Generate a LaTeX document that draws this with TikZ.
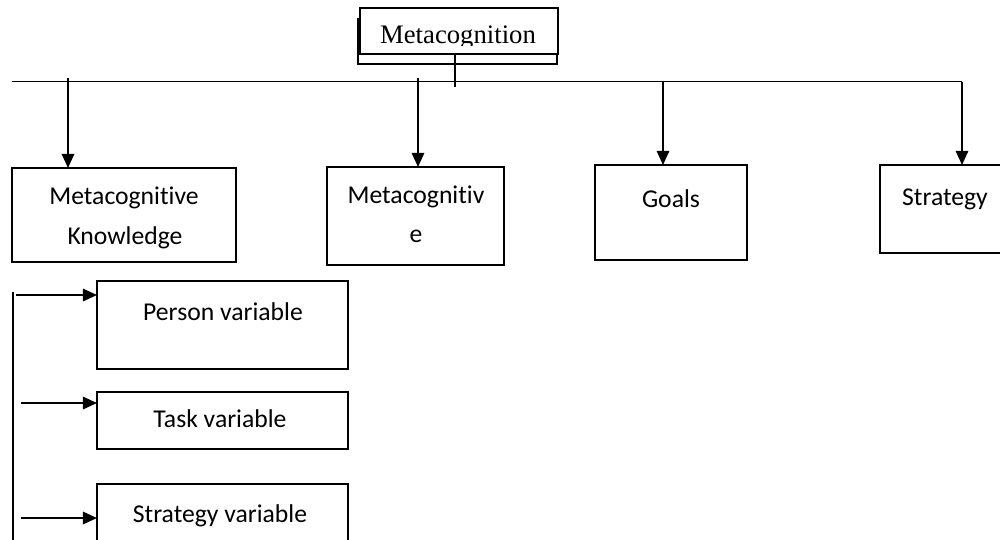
\documentclass[tikz,border=0pt]{standalone}
\usepackage{fontspec}
\setmainfont{Carlito}[RawFeature={-liga;-clig;-dlig}]
\newfontfamily\timesfont{Liberation Serif}
\usetikzlibrary{arrows.meta}
\begin{document}
\begin{tikzpicture}[x=0.02cm,y=-0.02cm,
  box/.style={draw,line width=1.2pt,inner sep=0pt,outer sep=0pt},
  openbox/.style={line width=1.2pt},
  txt/.style={inner sep=0pt,anchor=base,font=\fontsize{14.6}{22.8}\selectfont},
  arr/.style={line width=1.2pt,-{Triangle[length=8pt,width=7pt]}},
  thinline/.style={line width=0.6pt}]
\useasboundingbox (0,0) rectangle (1000,539);
% top box
\node[box,minimum width=3.98cm,minimum height=0.9cm] (metaback) at (457.5,41.5) {};
\node[box,fill=white,minimum width=3.96cm,minimum height=0.92cm] (meta) at (459,31) {};
\begin{scope}
\clip (361,9) rectangle (557,45);
\node[inner sep=0pt,anchor=base,font=\timesfont\fontsize{15.2}{18}\selectfont] (metat) at (458,43) {Metacognition};
\end{scope}
% bus line
\coordinate (busL) at (12,81.5);
\coordinate (busR) at (962,81.5);
\draw[thinline] (busL) -- (busR);
\coordinate (mstem) at (455,87);
\draw[thinline] (meta.south -| mstem) -- (mstem);
% first-level boxes
\node[box,minimum width=4.48cm,minimum height=1.88cm] (mk) at (124,215) {};
\node[txt] (mk1) at (124,204) {Metacognitive};
\node[txt] (mk2) at (125,244) {Knowledge};
\node[box,minimum width=3.54cm,minimum height=1.96cm] (mc) at (415.5,216) {};
\node[txt] (mc1) at (416,203) {Metacognitiv};
\node[txt] (mc2) at (416,242) {e};
\node[box,minimum width=3.04cm,minimum height=1.90cm] (goals) at (671,212.5) {};
\node[txt] (goalst) at (671,207) {Goals};
\draw[openbox] (1001,165) -| (880,253) -- (1001,253);
\node[txt] (strat) at (945,205) {Strategy};
\coordinate (stratTop) at (962,165);
% arrows from bus
\coordinate (s1) at (68,78);
\coordinate (s2) at (418,78);
\coordinate (s3) at (663,81.5);
\coordinate (s4) at (962,81.5);
\draw[arr] (s1) -- (s1 |- mk.north);
\draw[arr] (s2) -- (s2 |- mc.north);
\draw[arr] (s3) -- (s3 |- goals.north);
\draw[arr] (s4) -- (stratTop);
% second-level
\coordinate (vtop) at (13,292);
\coordinate (vbot) at (13,540);
\draw[thinline] (vtop) -- (vbot);
\node[box,minimum width=5.02cm,minimum height=1.76cm] (person) at (222.5,325) {};
\node[txt] (persont) at (223,320) {Person variable};
\node[box,minimum width=5.02cm,minimum height=1.14cm] (task) at (222.5,420.5) {};
\node[txt] (taskt) at (220,427) {Task variable};
\draw[openbox] (97,541) |- (348,484) -- (348,541);
\node[txt] (svt) at (220,522) {Strategy variable};
\coordinate (svLeft) at (97,518);
\coordinate (h1) at (16,295);
\coordinate (h2) at (21,403);
\coordinate (h3) at (21,518);
\draw[arr] (h1) -- (person.west |- h1);
\draw[arr] (h2) -- (task.west |- h2);
\draw[arr] (h3) -- (svLeft);
\end{tikzpicture}
\end{document}
